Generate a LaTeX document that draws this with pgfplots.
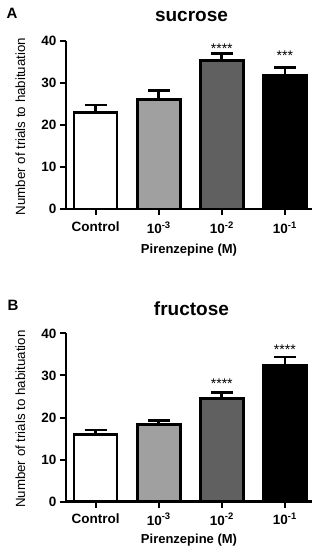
\documentclass[border=0pt]{standalone}
\usepackage{pgfplots}
\pgfplotsset{compat=1.18}
\usepackage{fontspec}
\setmainfont{Liberation Sans}
\definecolor{lgray}{RGB}{160,160,160}
\definecolor{dgray}{RGB}{96,96,96}
\tikzset{stars/.style={anchor=base, font=\fontsize{14}{14}\selectfont, inner sep=0pt}}
\pgfplotsset{
  panel/.style={
    scale only axis, width=246pt, height=168.3pt,
    anchor=south west,
    xmin=-0.47, xmax=3.43, ymin=0, ymax=40,
    axis x line*=bottom, axis y line*=left,
    axis line style={line width=2.6pt, -},
    xtick={0,1,2,3},
    xticklabels={Control,10\textsuperscript{-3},10\textsuperscript{-2},10\textsuperscript{-1}},
    ytick={0,10,20,30,40},
    tick style={line width=2pt, black},
    tick align=outside, major tick length=6pt,
    ticklabel style={font=\fontsize{13.5}{15}\selectfont\bfseries},
    xticklabel style={yshift=-3.5pt},
    /pgf/number format/assume math mode=true,
    ylabel={Number of trials to habituation},
    ylabel style={font=\fontsize{13.3}{15}\selectfont, at={(axis description cs:-0.185,0.49)}, anchor=center},
    xlabel={Pirenzepine (M)},
    xlabel style={font=\fontsize{13}{15}\selectfont\bfseries, yshift=-3.5pt},
    title style={font=\fontsize{19}{21}\selectfont\bfseries, at={(axis description cs:0.51,1.0)}, anchor=center, yshift=18.5pt},
    ybar, bar shift=0pt, bar width=43pt,
    clip=false,
    error bars/y dir=plus, error bars/y explicit,
    error bars/error bar style={line width=2.6pt, black},
    error bars/error mark options={line width=2.6pt, mark size=11pt, rotate=90, black},
  },
  bar/.style={draw=black, line width=2.6pt},
}
\begin{document}
\begin{tikzpicture}
\useasboundingbox (0pt,0pt) rectangle (326pt,550pt);
% top panel
\begin{axis}[panel, at={(66pt,341pt)}, title={sucrose}]
\addplot[bar, fill=white] coordinates {(0,22.9) +- (0,1.8)};
\addplot[bar, fill=lgray] coordinates {(1,26.0) +- (0,2.1)};
\addplot[bar, fill=dgray] coordinates {(2,35.3) +- (0,1.7)};
\addplot[bar, fill=black] coordinates {(3,31.8) +- (0,1.8)};
\node[stars] at (axis cs:2,36.9) {****};
\node[stars] at (axis cs:3,35.2) {***};
\end{axis}
\node[font=\fontsize{15}{15}\selectfont\bfseries] at (12pt,537pt) {A};
% bottom panel
\begin{axis}[panel, at={(66pt,48.3pt)}, title={fructose}, xticklabel style={yshift=1.5pt}, xlabel style={yshift=1.5pt}]
\addplot[bar, fill=white] coordinates {(0,16.0) +- (0,1.0)};
\addplot[bar, fill=lgray] coordinates {(1,18.3) +- (0,1.0)};
\addplot[bar, fill=dgray] coordinates {(2,24.5) +- (0,1.4)};
\addplot[bar, fill=black] coordinates {(3,32.5) +- (0,1.9)};
\node[stars] at (axis cs:2,27.0) {****};
\node[stars] at (axis cs:3,35.0) {****};
\end{axis}
\node[font=\fontsize{15}{15}\selectfont\bfseries] at (13pt,245pt) {B};
\end{tikzpicture}
\end{document}
